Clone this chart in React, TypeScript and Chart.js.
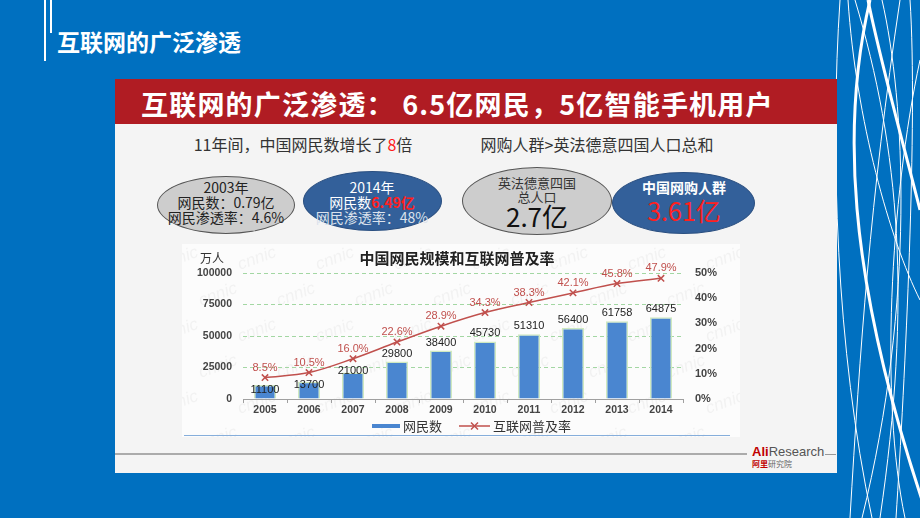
import React, { useEffect, useRef } from 'react';
import Chart from 'chart.js/auto';

// ---- data ----
const years = ['2005', '2006', '2007', '2008', '2009', '2010', '2011', '2012', '2013', '2014'];
const netizens = [11100, 13700, 21000, 29800, 38400, 45730, 51310, 56400, 61758, 64875];
const penetration = [8.5, 10.5, 16.0, 22.6, 28.9, 34.3, 38.3, 42.1, 45.8, 47.9];
const leftMax = 100000;
const leftStep = 25000;
const rightMax = 50;
const rightStep = 10;
const seriesLabels = ['网民数', '互联网普及率'];
const chartTitle = '中国网民规模和互联网普及率';
const unitLabel = '万人';

const BLUE = '#4a86d0';
const RED = '#c0504d';
const CJK = '"Noto Sans CJK SC", "Noto Sans", sans-serif';
const LAT = '"Liberation Sans", Arial, sans-serif';

const overlayPlugin = {
  id: 'overlay',
  beforeDraw(chart: any) {
    const ctx = chart.ctx;
    ctx.save();
    ctx.font = `italic 17px ${LAT}`;
    ctx.fillStyle = 'rgba(175,175,175,0.13)';
    for (let row = 0; row < 6; row++) {
      for (let col = 0; col < 8; col++) {
        const x = col * 78 + (row % 2) * 39 - 20;
        const y = row * 36 + 26;
        ctx.save();
        ctx.translate(x, y);
        ctx.rotate(-0.35);
        ctx.fillText('cnnic', 0, 0);
        ctx.restore();
      }
    }
    ctx.restore();
  },
  afterDatasetsDraw(chart: any) {
    const ctx = chart.ctx;
    let barMeta: any = null;
    let lineMeta: any = null;
    chart.data.datasets.forEach((ds: any, i: number) => {
      const m = chart.getDatasetMeta(i);
      if (ds.type === 'bar') barMeta = m;
      else lineMeta = m;
    });
    ctx.save();
    ctx.textAlign = 'center';
    ctx.textBaseline = 'middle';
    if (barMeta) {
      ctx.font = `11px ${LAT}`;
      ctx.fillStyle = '#222';
      barMeta.data.forEach((el: any, i: number) => {
        const top = el.y;
        const py = lineMeta ? lineMeta.data[i].y : -1000;
        const gap = top - py;
        const off = Math.max(-5, Math.min(8, gap - 12));
        ctx.fillText(String(netizens[i]), el.x, top - off);
      });
    }
    if (lineMeta) {
      ctx.font = `11px ${LAT}`;
      ctx.fillStyle = RED;
      lineMeta.data.forEach((el: any, i: number) => {
        ctx.fillText(penetration[i].toFixed(1) + '%', el.x, el.y - 10);
      });
    }
    ctx.restore();
  },
  afterDraw(chart: any) {
    const ctx = chart.ctx;
    ctx.save();
    ctx.textBaseline = 'middle';
    ctx.fillStyle = '#222';
    ctx.font = `bold 15px ${CJK}`;
    ctx.textAlign = 'center';
    ctx.fillText(chartTitle, 275, 14);
    ctx.font = `12px ${CJK}`;
    ctx.textAlign = 'left';
    ctx.fillStyle = '#333';
    ctx.fillText(unitLabel, 18, 14);

    // legend
    const ly = 182;
    ctx.fillStyle = BLUE;
    ctx.fillRect(190, ly - 2, 28, 4);
    ctx.fillStyle = '#333';
    ctx.font = `13px ${CJK}`;
    ctx.fillText(seriesLabels[0], 221, ly);
    ctx.strokeStyle = RED;
    ctx.lineWidth = 1.5;
    ctx.beginPath();
    ctx.moveTo(277, ly);
    ctx.lineTo(308, ly);
    ctx.stroke();
    const cx = 292.5;
    const r = 3.5;
    ctx.beginPath();
    ctx.moveTo(cx - r, ly - r);
    ctx.lineTo(cx + r, ly + r);
    ctx.moveTo(cx - r, ly + r);
    ctx.lineTo(cx + r, ly - r);
    ctx.stroke();
    ctx.fillText(seriesLabels[1], 311, ly);
    ctx.restore();
  },
};

function T(props: { x: number; y: number; size: number; color?: string; bold?: boolean; children: any; font?: string }) {
  return (
    <div
      style={{
        position: 'absolute',
        left: props.x,
        top: props.y,
        transform: 'translate(-50%, -50%)',
        whiteSpace: 'nowrap',
        fontSize: props.size,
        lineHeight: 1,
        color: props.color || '#222',
        fontWeight: props.bold ? 'bold' : 'normal',
        fontFamily: props.font || CJK,
      }}
    >
      {props.children}
    </div>
  );
}

function Ellipse(props: { left: number; top: number; w: number; h: number; bg: string; border: string }) {
  return (
    <div
      style={{
        position: 'absolute',
        left: props.left,
        top: props.top,
        width: props.w,
        height: props.h,
        borderRadius: '50%',
        background: props.bg,
        border: `1px solid ${props.border}`,
        boxSizing: 'border-box',
      }}
    />
  );
}

function ChartBox() {
  const ref = useRef<HTMLCanvasElement | null>(null);
  useEffect(() => {
    if (!ref.current) return;
    const gridColor = (c: any) => (c.tick && c.tick.value === 0 ? 'rgba(0,0,0,0)' : '#a3d7a3');
    const chart = new Chart(ref.current, {
      data: {
        labels: years,
        datasets: [
          {
            type: 'line',
            label: seriesLabels[1],
            data: penetration,
            yAxisID: 'y1',
            borderColor: RED,
            borderWidth: 1.5,
            tension: 0.35,
            pointStyle: 'crossRot',
            pointRadius: 4.5,
            pointBorderColor: RED,
            pointBackgroundColor: RED,
            pointBorderWidth: 1.5,
            order: 0,
          },
          {
            type: 'bar',
            label: seriesLabels[0],
            data: netizens,
            yAxisID: 'y',
            backgroundColor: BLUE,
            borderColor: '#cfe9c0',
            borderWidth: 1.5,
            borderSkipped: 'bottom',
            barPercentage: 0.5,
            categoryPercentage: 1,
            order: 1,
          },
        ] as any,
      },
      options: {
        animation: false,
        responsive: false,
        layout: { padding: { top: 29, left: 0, right: 0, bottom: 0 } },
        plugins: {
          legend: { display: false },
          tooltip: { enabled: false },
          title: { display: false },
        },
        scales: {
          x: {
            offset: true,
            grid: { display: true, drawOnChartArea: false, drawTicks: true, tickLength: 4, color: '#a0a0a0', offset: true },
            border: { display: true, color: '#a0a0a0', width: 1 },
            ticks: { color: '#444', font: { family: 'Liberation Sans', size: 10.5, weight: 'bold' }, padding: 1, maxRotation: 0 },
            afterFit: (s: any) => {
              s.height = 38;
            },
          },
          y: {
            position: 'left',
            min: 0,
            max: leftMax,
            ticks: {
              stepSize: leftStep,
              color: '#444',
              font: { family: 'Liberation Sans', size: 10.5, weight: 'bold' },
              padding: 11,
              callback: (v: any) => String(v),
            },
            grid: { color: gridColor, lineWidth: 1, drawTicks: false, borderDash: [4, 3] } as any,
            border: { display: false, dash: [4, 3] },
            afterFit: (s: any) => {
              s.width = 61;
            },
          },
          y1: {
            position: 'right',
            min: 0,
            max: rightMax,
            ticks: {
              stepSize: rightStep,
              color: '#444',
              font: { family: 'Liberation Sans', size: 11, weight: 'bold' },
              padding: 12,
              callback: (v: any) => v + '%',
            },
            grid: { drawOnChartArea: false, drawTicks: false },
            border: { display: false },
            afterFit: (s: any) => {
              s.width = 57;
            },
          },
        },
      } as any,
      plugins: [overlayPlugin],
    });
    return () => chart.destroy();
  }, []);
  return (
    <div style={{ position: 'absolute', left: 182, top: 244, width: 558, height: 193, background: '#fcfcfc' }}>
      <canvas ref={ref} width={558} height={193} style={{ width: 558, height: 193, display: 'block' }} />
    </div>
  );
}

function Decor() {
  return (
    <svg width={85} height={518} style={{ position: 'absolute', left: 835, top: 0 }} viewBox="835 0 85 518">
      <g fill="none" stroke="#ffffff">
        <path d="M868,0 C880,60 905,150 920,210" strokeWidth={3} />
        <path d="M870,0 C842,120 846,270 922,500" strokeWidth={3} />
        <path d="M840,0 C830,150 836,350 872,518" strokeWidth={1} />
        <path d="M855,0 C900,150 912,300 880,518" strokeWidth={1} />
        <path d="M900,0 C870,200 860,350 850,518" strokeWidth={1} />
        <path d="M920,60 C890,200 880,400 905,518" strokeWidth={1} />
        <path d="M882,0 C905,100 916,300 862,518" strokeWidth={1} />
        <path d="M848,0 C856,120 890,240 920,300" strokeWidth={1} />
        <path d="M910,0 C918,120 905,380 896,518" strokeWidth={1} />
      </g>
    </svg>
  );
}

export default function App() {
  return (
    <div
      style={{
        position: 'absolute',
        left: 0,
        top: 0,
        width: 920,
        height: 518,
        background: '#0070c0',
        overflow: 'hidden',
        fontFamily: CJK,
      }}
    >
      <div style={{ position: 'absolute', left: 44, top: 0, width: 2, height: 61, background: '#fff' }} />
      <div style={{ position: 'absolute', left: 50, top: 0, width: 2, height: 33, background: '#fff' }} />
      <div
        style={{
          position: 'absolute',
          left: 57,
          top: 29,
          fontSize: 23,
          lineHeight: '24px',
          fontWeight: 'bold',
          color: '#fff',
          whiteSpace: 'nowrap',
        }}
      >
        互联网的广泛渗透
      </div>

      <Decor />

      <div style={{ position: 'absolute', left: 115, top: 79, width: 722, height: 394, background: '#f4f4f4' }} />
      <div style={{ position: 'absolute', left: 115, top: 79, width: 722, height: 45, background: '#b01c23' }} />
      <div
        style={{
          position: 'absolute',
          left: 141,
          top: 103,
          transform: 'translateY(-50%)',
          fontSize: 27,
          letterSpacing: 1.2,
          lineHeight: 1,
          fontWeight: 'bold',
          color: '#fff',
          whiteSpace: 'nowrap',
        }}
      >
        互联网的广泛渗透： 6.5亿网民，5亿智能手机用户
      </div>

      <T x={303} y={144} size={16} color="#333">
        11年间，中国网民数增长了<span style={{ color: '#ff1a1a' }}>8</span>倍
      </T>
      <T x={597} y={144} size={16} color="#333">
        网购人群&gt;英法德意四国人口总和
      </T>

      <Ellipse left={157} top={176} w={138} h={58} bg="#cdcdcd" border="#555" />
      <T x={226} y={187} size={14}>2003年</T>
      <T x={226} y={202} size={14}>网民数：0.79亿</T>
      <T x={226} y={217} size={14}>网民渗透率：4.6%</T>

      <Ellipse left={303} top={171} w={139} h={60} bg="#33609a" border="#2a4f80" />
      <T x={372} y={187} size={14} color="#fff">2014年</T>
      <T x={372} y={202} size={14} color="#fff">
        网民数<span style={{ color: '#ff2020', fontWeight: 'bold' }}>6.49亿</span>
      </T>
      <T x={372} y={217} size={14} color="#dbe2ec">网民渗透率：48%</T>

      <Ellipse left={462} top={167} w={150} h={68} bg="#cdcdcd" border="#555" />
      <T x={537} y={182} size={13} color="#333">英法德意四国</T>
      <T x={537} y={196} size={13} color="#333">总人口</T>
      <T x={537} y={216} size={26} color="#111">2.7亿</T>

      <Ellipse left={612} top={172} w={143} h={62} bg="#33609a" border="#2a4f80" />
      <T x={684} y={187} size={14} color="#fff" bold>中国网购人群</T>
      <T x={684} y={210} size={25} color="#ff2020">3.61亿</T>

      <ChartBox />

      <div style={{ position: 'absolute', left: 184, top: 435, width: 546, height: 1, background: '#86aedb' }} />
      <div style={{ position: 'absolute', left: 115, top: 453, width: 632, height: 2, background: '#ababab' }} />
      <div style={{ position: 'absolute', left: 825, top: 454, width: 11, height: 1, background: '#999' }} />
      <div
        style={{
          position: 'absolute',
          left: 752,
          top: 445,
          fontSize: 13,
          lineHeight: '14px',
          fontFamily: LAT,
          whiteSpace: 'nowrap',
          color: '#555',
        }}
      >
        <span style={{ color: '#c00000', fontWeight: 'bold' }}>Ali</span>Research
      </div>
      <div
        style={{
          position: 'absolute',
          left: 752,
          top: 459,
          fontSize: 8,
          lineHeight: '9px',
          whiteSpace: 'nowrap',
          color: '#666',
        }}
      >
        <span style={{ color: '#c00000', fontWeight: 'bold' }}>阿里</span>研究院
      </div>
    </div>
  );
}
